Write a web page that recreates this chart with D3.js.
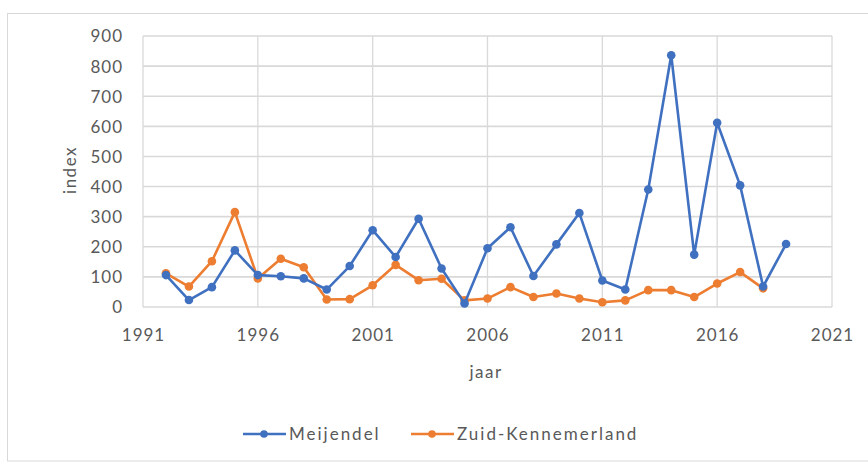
<!DOCTYPE html>
<html><head><meta charset="utf-8">
<script src="https://cdn.jsdelivr.net/npm/d3@7"></script>
<style>body{margin:0;background:#fff;} svg{display:block;}</style>
</head><body>
<svg id="c" width="868" height="462"></svg>
<script>
const yearsMeijendel = [1992,1993,1994,1995,1996,1997,1998,1999,2000,2001,2002,2003,2004,2005,2006,2007,2008,2009,2010,2011,2012,2013,2014,2015,2016,2017,2018,2019];
const meijendel = [106,23,66,188,106,102,95,58,136,255,166,293,128,12,195,265,103,208,312,88,58,390,836,174,612,404,68,209];
const yearsZK = [1992,1993,1994,1995,1996,1997,1998,1999,2000,2001,2002,2003,2004,2005,2006,2007,2008,2009,2010,2011,2012,2013,2014,2015,2016,2017,2018];
const zuidKennemerland = [112,68,152,315,95,160,132,25,26,72,140,89,94,22,28,66,33,45,28,16,22,56,56,33,78,116,62];
const xTicks = [1991,1996,2001,2006,2011,2016,2021];
const yTicks = [0,100,200,300,400,500,600,700,800,900];
const seriesNames = ["Meijendel","Zuid-Kennemerland"];
const colors = ["#4070C0","#ED7D31"];

const svg = d3.select("#c");
const font = "Lato, Carlito, 'Open Sans', sans-serif";
svg.append("rect").attr("x",7.5).attr("y",13.5).attr("width",870).attr("height",447.5)
  .attr("fill","#fff").attr("stroke","#d9d9d9");

const x = d3.scaleLinear().domain([1991,2021]).range([143,832]);
const y = d3.scaleLinear().domain([0,900]).range([307,36]);

const g = svg.append("g");
g.selectAll("line.h").data(yTicks).join("line")
  .attr("x1",x(1991)).attr("x2",x(2021)).attr("y1",d=>y(d)).attr("y2",d=>y(d))
  .attr("stroke","#d9d9d9").attr("stroke-width",1.6);
g.selectAll("line.v").data(xTicks).join("line")
  .attr("y1",y(0)).attr("y2",y(900)).attr("x1",d=>x(d)).attr("x2",d=>x(d))
  .attr("stroke","#d9d9d9").attr("stroke-width",1.3);

const yAxis = d3.axisLeft(y).tickValues(yTicks).tickSize(0).tickPadding(0);
const ya = svg.append("g").attr("transform","translate(123,0)").call(yAxis);
ya.select(".domain").remove();
ya.selectAll("text").attr("font-family",font).attr("font-size",17).attr("letter-spacing",1)
  .attr("fill","#595959").attr("dy","0.35em");
const xAxis = d3.axisBottom(x).tickValues(xTicks).tickFormat(d3.format("d")).tickSize(0).tickPadding(0);
const xa = svg.append("g").attr("transform","translate(0,329)").call(xAxis);
xa.select(".domain").remove();
xa.selectAll("text").attr("font-family",font).attr("font-size",17).attr("letter-spacing",1)
  .attr("fill","#595959").attr("dy","0.71em");

svg.append("text").attr("transform","translate(70,170) rotate(-90)").attr("text-anchor","middle")
  .attr("font-family",font).attr("font-size",17).attr("letter-spacing",1.5).attr("fill","#595959").attr("dy","0.35em").text("index");
svg.append("text").attr("x",486).attr("y",372).attr("text-anchor","middle")
  .attr("font-family",font).attr("font-size",17).attr("letter-spacing",1.5).attr("fill","#595959").attr("dy","0.35em").text("jaar");

const line = d3.line().x(d=>x(d[0])).y(d=>y(d[1]));
const data = [d3.zip(yearsMeijendel, meijendel), d3.zip(yearsZK, zuidKennemerland)];
[1,0].forEach(i=>{
  const s = svg.append("g");
  s.append("path").datum(data[i]).attr("d",line).attr("fill","none")
    .attr("stroke",colors[i]).attr("stroke-width",2.6).attr("stroke-linejoin","round");
  s.selectAll("circle").data(data[i]).join("circle")
    .attr("cx",d=>x(d[0])).attr("cy",d=>y(d[1])).attr("r",4.3).attr("fill",colors[i]);
});

const leg = svg.append("g");
const items = [{x:243, name:seriesNames[0], c:colors[0]},{x:411, name:seriesNames[1], c:colors[1]}];
items.forEach(it=>{
  leg.append("line").attr("x1",it.x).attr("x2",it.x+43).attr("y1",434).attr("y2",434)
    .attr("stroke",it.c).attr("stroke-width",2.6);
  leg.append("circle").attr("cx",it.x+21).attr("cy",434).attr("r",3.8).attr("fill",it.c);
  leg.append("text").attr("x",it.x+46).attr("y",434).attr("dy","0.35em")
    .attr("font-family",font).attr("font-size",17).attr("letter-spacing",2).attr("fill","#595959").text(it.name);
});
</script>
</body></html>
